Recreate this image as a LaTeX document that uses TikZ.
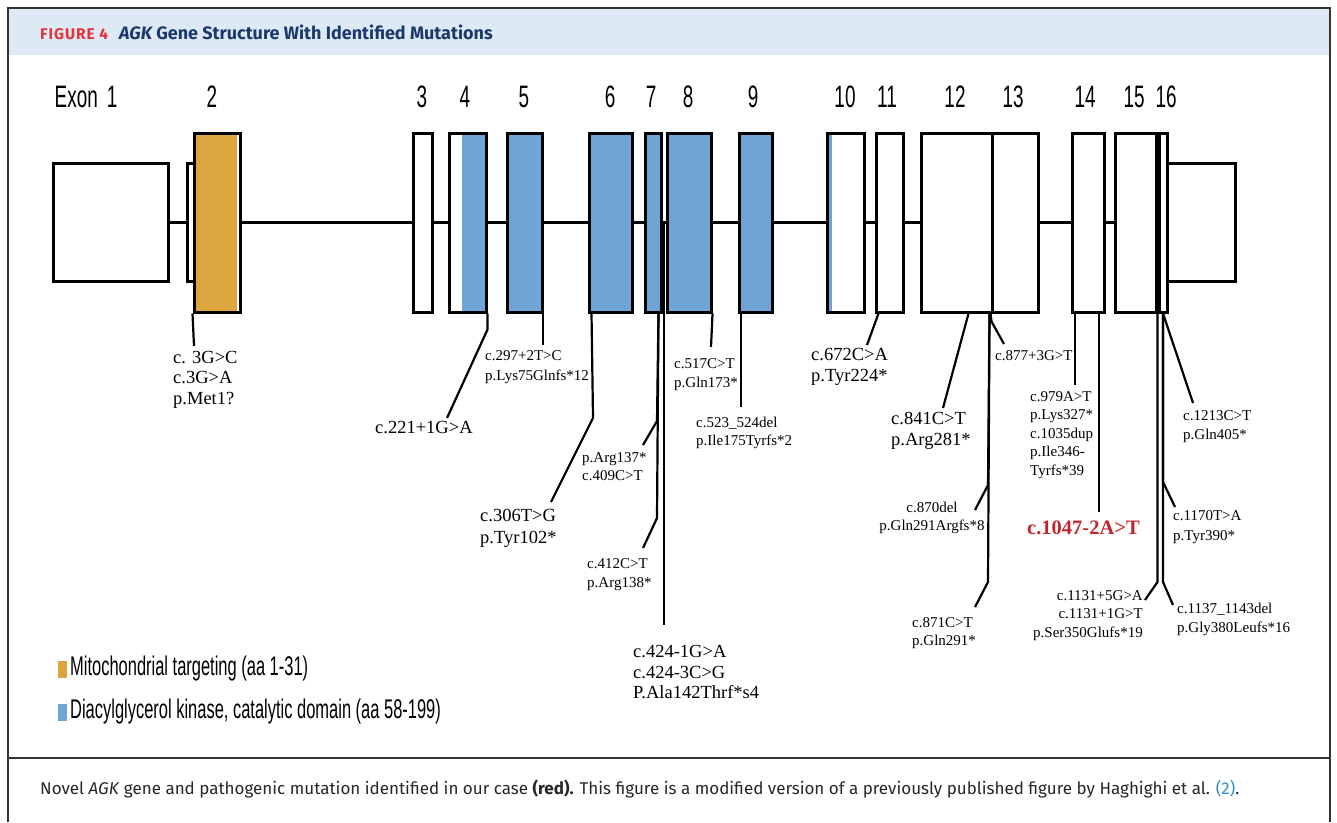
\documentclass[tikz,border=0pt]{standalone}
\usepackage{fontspec}
\setmainfont{Liberation Serif}
\newfontfamily\narrowfont[FakeStretch=0.61]{Liberation Sans}
\newfontfamily\firafont{Fira Sans}
\usetikzlibrary{calc}
\definecolor{orangeC}{HTML}{DDA53E}
\definecolor{blueC}{HTML}{6FA4D5}
\definecolor{hdrblue}{HTML}{DDE9F5}
\definecolor{figred}{HTML}{E4313A}
\definecolor{navy}{HTML}{1B3A6B}
\definecolor{capblue}{HTML}{2C8FC9}
\definecolor{redlbl}{HTML}{C0272D}
\definecolor{framec}{HTML}{333333}
\begin{document}
\begin{tikzpicture}[x=1pt,y=-1pt,
  exon/.style={draw, line width=3pt, rectangle, inner sep=0pt, minimum height=179pt, fill=white},
  utr/.style={exon, minimum height=118pt},
  bb/.style={line width=3pt},
  conn/.style={line width=2.2pt},
  exlbl/.style={inner sep=0pt, font=\narrowfont\fontsize{31}{33}\selectfont},
  labS/.style={inner sep=0pt, align=left, anchor=north west, font=\fontsize{15}{19}\selectfont},
  labL/.style={inner sep=0pt, align=left, anchor=north west, font=\fontsize{18.5}{20.5}\selectfont},
  legtxt/.style={inner sep=0pt, anchor=west, font=\narrowfont\fontsize{27}{29}\selectfont},
  frame/.style={draw=framec, line width=1.5pt}]
\useasboundingbox (0,0) rectangle (1337,822);
% frame and header
\fill[hdrblue] (8,8) rectangle (1330,55);
\draw[frame] (8,822) -- (8,8) -- (1330,8) -- (1330,822);
\draw[frame] (8,758) -- (1330,758);
\node[anchor=base west, inner sep=0pt] (title) at (40,39)
  {\firafont\bfseries{\fontsize{15.5}{17}\selectfont\color{figred}\addfontfeatures{LetterSpace=6}FIGURE 4}\hspace{11pt}{\fontsize{18}{20}\selectfont\color{navy}{\itshape AGK}\ Gene Structure With Identified Mutations}};
% exons
\node[utr] (e1) at (110.5,222.5) [minimum width=115pt] {};
\node[utr] (eU) at (1201,222.5) [minimum width=68pt] {};
\draw[bb] (e1.east) -- (eU.west);
\node[utr] (e1b) at (190.5,222.5) [minimum width=7pt] {};
\node[exon, fill=orangeC, path picture={\fill[white] ([xshift=-3.5pt]path picture bounding box.north east) rectangle (path picture bounding box.south east);}] (e2) at (217,222.5) [minimum width=46pt] {};
\node[exon] (e3) at (422.5,222.5) [minimum width=19pt] {};
\node[exon, path picture={\fill[blueC] ([xshift=13pt]path picture bounding box.north west) rectangle (path picture bounding box.south east);}] (e4) at (467.5,222.5) [minimum width=37pt] {};
\node[exon, fill=blueC] (e5) at (524.5,222.5) [minimum width=35pt] {};
\node[exon, fill=blueC] (e6) at (610.5,222.5) [minimum width=43pt] {};
\node[exon, fill=blueC] (e7) at (653,222.5) [minimum width=16pt] {};
\node[exon, fill=blueC] (e8) at (689,222.5) [minimum width=44pt] {};
\node[exon, fill=blueC] (e9) at (755.5,222.5) [minimum width=33pt] {};
\node[exon, path picture={\fill[blueC] (path picture bounding box.north west) rectangle ([xshift=5pt]path picture bounding box.south west);}] (e10) at (845.5,222.5) [minimum width=37pt] {};
\node[exon] (e11) at (889.5,222.5) [minimum width=27pt] {};
\node[exon] (e12) at (956.5,222.5) [minimum width=71pt] {};
\node[exon] (e13) at (1015,222.5) [minimum width=46pt] {};
\node[exon] (e14) at (1088,222.5) [minimum width=32pt] {};
\node[exon] (e15) at (1135.5,222.5) [minimum width=41pt] {};
\node[exon] (e16) at (1163,222.5) [minimum width=8pt] {};
% exon labels
\node[exlbl] (n1) at (86,97) {Exon\hspace{9pt}1};
\node[exlbl] (n2) at (212,97) {2};
\node[exlbl] (n3) at (422,97) {3};
\node[exlbl] (n4) at (465,97) {4};
\node[exlbl] (n5) at (524,97) {5};
\node[exlbl] (n6) at (610,97) {6};
\node[exlbl] (n7) at (651,97) {7};
\node[exlbl] (n8) at (688,97) {8};
\node[exlbl] (n9) at (753,97) {9};
\node[exlbl] (n10) at (845,97) {10};
\node[exlbl] (n11) at (887,97) {11};
\node[exlbl] (n12) at (955,97) {12};
\node[exlbl] (n13) at (1013,97) {13};
\node[exlbl] (n14) at (1085,97) {14};
\node[exlbl] (n15) at (1134,97) {15};
\node[exlbl] (n16) at (1166,97) {16};
% mutation labels
\node[labL] (lMet) at (173,351) {c. 3G>C\\c.3G>A\\p.Met1?};
\node[labL] (l221) at (375,421.5) {c.221+1G>A};
\node[labS, font=\fontsize{15}{20}\selectfont] (l297) at (485,350) {c.297+2T>C\\p.Lys75Glnfs*12};
\node[labL, font=\fontsize{18.5}{22}\selectfont] (l306) at (480,508.5) {c.306T>G\\p.Tyr102*};
\node[labS, font=\fontsize{15}{18}\selectfont] (l409) at (582,452) {p.Arg137*\\c.409C>T};
\node[labS] (l412) at (587,558) {c.412C>T\\p.Arg138*};
\node[labL] (l424) at (633,645.5) {c.424-1G>A\\c.424-3C>G\\P.Ala142Thrf*s4};
\node[labS] (l517) at (674,358) {c.517C>T\\p.Gln173*};
\node[labS, font=\fontsize{15}{18}\selectfont] (l523) at (696,417) {c.523\_524del\\p.Ile175Tyrfs*2};
\node[labL, font=\fontsize{18.5}{21}\selectfont] (l672) at (811,348.5) {c.672C>A\\p.Tyr224*};
\node[labL, font=\fontsize{18.5}{21}\selectfont] (l841) at (891,411.5) {c.841C>T\\p.Arg281*};
\node[labS] (l877) at (995,350) {c.877+3G>T};
\node[labS, align=center, anchor=north, font=\fontsize{15}{18}\selectfont] (l870) at (932,502) {c.870del\\p.Gln291Argfs*8};
\node[labS, font=\fontsize{15}{18}\selectfont] (l871) at (912,617) {c.871C>T\\p.Gln291*};
\node[labS, font=\fontsize{15}{18.5}\selectfont] (l979) at (1030,391) {c.979A>T\\p.Lys327*\\c.1035dup\\p.Ile346-\\Tyrfs*39};
\node[inner sep=0pt, anchor=north west, text=redlbl, font=\fontsize{20.5}{22}\selectfont\bfseries] (l1047) at (1027,521) {c.1047-2A>T};
\node[labS] (l1213) at (1183,410) {c.1213C>T\\p.Gln405*};
\node[labS, font=\fontsize{15}{20}\selectfont] (l1170) at (1173,510) {c.1170T>A\\p.Tyr390*};
\node[labS, align=right, anchor=north east, font=\fontsize{15}{18.5}\selectfont] (l1131) at (1143,590) {c.1131+5G>A\\c.1131+1G>T\\p.Ser350Glufs*19};
\node[labS] (l1137) at (1177,603) {c.1137\_1143del\\p.Gly380Leufs*16};
% connector free ends
\coordinate (bb78) at ($(e7.east)!0.5!(e8.west)$);
\coordinate (bb1516) at ($(e15.east)!0.5!(e16.west)$);
\coordinate (cMet) at (194,346);
\coordinate (c221) at (447,418);
\coordinate (c297) at (543,345);
\coordinate (c306) at (551,502);
\coordinate (c409) at (643,445);
\coordinate (c412) at (643,548);
\coordinate (c424) at (664,625);
\coordinate (c517) at (711,347);
\coordinate (c523) at (741,407);
\coordinate (c672) at (867,345);
\coordinate (c841) at (943,408);
\coordinate (c877) at (1004,344);
\coordinate (c870) at (975,510);
\coordinate (c871) at (975,607);
\coordinate (c979) at (1075,385);
\coordinate (c1047) at (1099,512);
\coordinate (c1213) at (1193,403);
\coordinate (c1170) at (1175,507);
\coordinate (c1131) at (1145,600);
\coordinate (c1137) at (1173,605);
% connectors
\draw[conn] (e2.south west) -- (cMet);
\draw[conn] (e4.south east) -- ++(0,16) -- (c221);
\draw[conn] (c297 |- e5.south) -- (c297);
\draw[conn] ($(e6.south west)+(4,0)$) -- (593,418) -- (c306);
\draw[conn] ($(e7.south east)+(-4,0)$) -- (657,421) -- (c409);
\draw[conn] ($(e7.south east)+(-4,0)$) -- (657,518) -- (c412);
\draw[conn] (c424 |- bb78) -- (c424);
\draw[conn] (e8.south east) -- (c517);
\draw[conn] (c523 |- e9.south) -- (c523);
\draw[conn] ($(e11.south west)+(4,0)$) -- (c672);
\draw[conn] ($(e12.south west)+(49,0)$) -- (c841);
\draw[conn] (e13.south west) -- ++(1,8) -- (c877);
\draw[conn] ($(e12.south east)+(-4,0)$) -- (988,485) -- (c870);
\draw[conn] ($(e12.south east)+(-4,0)$) -- (988,582) -- (c871);
\draw[conn] (c979 |- e14.south) -- (c979);
\draw[conn] (c1047 |- e14.south) -- (c1047);
\draw[conn] (e16.south) -- (c1213);
\draw[conn] (e16.south) -- (1163,482) -- (c1170);
\draw[conn] (e16.south) -- (1163,582) -- (c1137);
\draw[conn] (bb1516) -- (1157.5,582) -- (c1131);
% legend
\node[fill=orangeC, inner sep=0pt, minimum width=9pt, minimum height=17pt] (sqO) at (62,669) {};
\node[legtxt] (legO) at (70,669) {Mitochondrial targeting (aa 1-31)};
\node[fill=blueC, inner sep=0pt, minimum width=9pt, minimum height=17pt] (sqB) at (62,712) {};
\node[legtxt] (legB) at (70,712) {Diacylglycerol kinase, catalytic domain (aa 58-199)};
% caption
\node[anchor=base west, inner sep=0pt, text=black!85] (cap) at (40,794)
  {\firafont\fontsize{17}{20}\selectfont Novel \textit{AGK} gene and pathogenic mutation identified in our case \textbf{(red).} This figure is a modified version of a previously published figure by Haghighi et al. {\color{capblue}(2)}.};
\end{tikzpicture}
\end{document}
